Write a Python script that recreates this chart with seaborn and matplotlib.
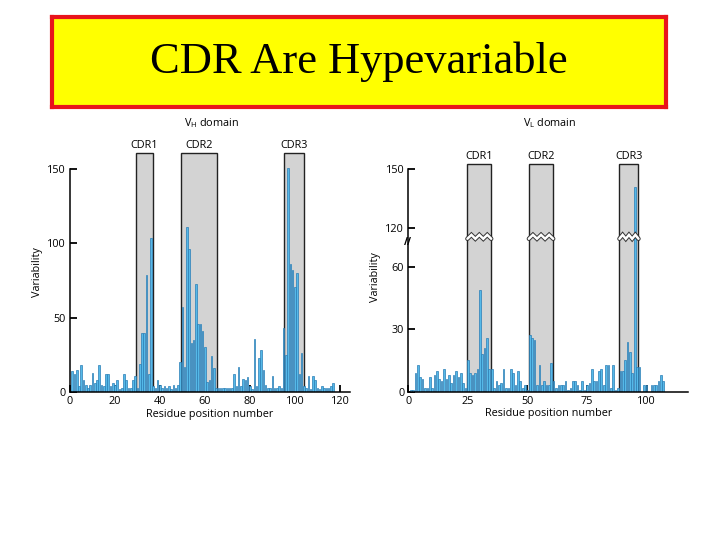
import numpy as np
import pandas as pd
import seaborn as sns
import matplotlib
matplotlib.use('Agg')
import matplotlib.pyplot as plt
from matplotlib.patches import Rectangle

# heavy chain variability (Wu-Kabat plot), residues 1..117
vh_pos = list(range(1, 118))
vh_var = [14, 12, 15, 4, 18, 8, 5, 3, 5, 13, 6, 8, 18, 5, 4, 12, 12, 4, 6, 5,
          8, 2, 3, 12, 8, 3, 3, 8, 11, 3, 19, 40, 40, 79, 12, 104, 4, 3, 8, 5,
          3, 4, 3, 4, 2, 5, 3, 5, 20, 57, 17, 111, 96, 33, 35, 73, 46, 46, 41, 30,
          7, 8, 24, 16, 3, 3, 3, 3, 3, 3, 3, 3, 12, 4, 17, 4, 9, 8, 10, 4,
          2, 36, 4, 23, 28, 15, 5, 3, 3, 11, 3, 3, 4, 3, 43, 25, 151, 86, 82, 71,
          80, 12, 26, 4, 3, 11, 2, 11, 8, 3, 2, 4, 3, 3, 3, 4, 6]

# light chain variability, residues 1..107
vl_pos = list(range(1, 108))
vl_var = [1, 1, 9, 13, 7, 6, 2, 2, 7, 2, 8, 10, 6, 5, 11, 6, 8, 4, 8, 10,
          7, 9, 4, 2, 15, 9, 8, 9, 11, 49, 18, 21, 26, 11, 11, 2, 5, 3, 4, 11,
          2, 2, 11, 9, 3, 10, 5, 2, 3, 1, 27, 26, 25, 3, 13, 3, 5, 3, 3, 14,
          5, 2, 3, 3, 3, 5, 1, 2, 5, 5, 3, 1, 5, 1, 3, 4, 11, 5, 5, 10,
          11, 3, 13, 13, 2, 13, 1, 2, 10, 10, 15, 24, 19, 9, 141, 12, 12, 0, 3, 3,
          0, 3, 3, 3, 5, 8, 5]

cdr_names = ['CDR1', 'CDR2', 'CDR3']
vh_cdr = [(29.3, 37.0), (49.2, 65.5), (95.1, 104.1)]
vl_cdr = [(24.8, 34.8), (50.6, 60.8), (88.6, 96.6)]

vh = pd.DataFrame({'pos': vh_pos, 'var': vh_var})
vl = pd.DataFrame({'pos': vl_pos, 'var': vl_var})

sns.set_style('ticks')
plt.rcParams['font.family'] = ['Open Sans', 'DejaVu Sans']
plt.rcParams['mathtext.fontset'] = 'custom'
plt.rcParams['mathtext.rm'] = 'Open Sans'
plt.rcParams['mathtext.it'] = 'Open Sans'
for k in ['text.color', 'axes.labelcolor', 'xtick.color', 'ytick.color', 'axes.edgecolor']:
    plt.rcParams[k] = 'black'

FS = 7.8
bar_c = '#55b9e8'
edge_c = '#2a7db5'
box_c = '#d3d3d3'


# broken y axis for the light chain panel
def fwd(y):
    y = np.asarray(y, dtype=float)
    return np.where(y <= 60, y,
                    np.where(y <= 120, 60 + (y - 60) * 0.3125,
                             78.75 + (y - 120) * 0.94))


def inv(u):
    u = np.asarray(u, dtype=float)
    return np.where(u <= 60, u,
                    np.where(u <= 78.75, 60 + (u - 60) / 0.3125,
                             120 + (u - 78.75) / 0.94))


fig = plt.figure(figsize=(7.2, 5.4), dpi=100)

# title banner
axt = fig.add_axes([52 / 720, (540 - 107) / 540, 614 / 720, 90 / 540])
axt.set_facecolor('#ffff00')
axt.set_xticks([])
axt.set_yticks([])
for s in axt.spines.values():
    s.set_color('#e8141b')
    s.set_linewidth(3)
axt.text(0.5, 0.5, 'CDR Are Hypevariable', family='Liberation Serif',
         fontsize=32, color='black', ha='center', va='center', transform=axt.transAxes)

ax1 = fig.add_axes([70 / 720, (540 - 392) / 540, 280 / 720, 240.6 / 540])
ax2 = fig.add_axes([408.3 / 720, (540 - 391.7) / 540, 280 / 720, 228.6 / 540])

sns.barplot(data=vh, x='pos', y='var', native_scale=True, color=bar_c,
            width=0.7, edgecolor=edge_c, linewidth=0.5, saturation=1, ax=ax1, zorder=3)
sns.barplot(data=vl, x='pos', y='var', native_scale=True, color=bar_c,
            width=0.7, edgecolor=edge_c, linewidth=0.5, saturation=1, ax=ax2, zorder=3)

ax2.set_yscale('function', functions=(fwd, inv))

ax1.set_xlim(0, 124.5)
ax1.set_ylim(0, 162)
ax1.set_xticks([0, 20, 40, 60, 80, 100, 120])
ax1.set_yticks([0, 50, 100, 150])
ax1.spines['left'].set_bounds(0, 150)

ax2.set_xlim(0, 117.5)
ax2.set_ylim(0, 153)
ax2.set_xticks([0, 25, 50, 75, 100])
ax2.set_yticks([0, 30, 60, 120, 150])
ax2.yaxis.set_minor_locator(matplotlib.ticker.NullLocator())
ax2.yaxis.set_major_formatter(matplotlib.ticker.FormatStrFormatter('%d'))
ax2.spines['left'].set_bounds(0, 150)

for ax, cdrs, top, lab, lab_x in [(ax1, vh_cdr, 161, r'V$_{\mathrm{H}}$ domain', 211.5),
                                   (ax2, vl_cdr, 152.5, r'V$_{\mathrm{L}}$ domain', 550)]:
    for s in ['top', 'right']:
        ax.spines[s].set_visible(False)
    for s in ['left', 'bottom']:
        ax.spines[s].set_linewidth(1.1)
        ax.spines[s].set_zorder(5)
    ax.tick_params(direction='in', length=5, width=1.3, labelsize=FS, pad=3)
    ax.set_xlabel('Residue position number', fontsize=FS, labelpad=1)
    ax.set_ylabel('Variability', fontsize=FS, labelpad=3)
    ax.set_facecolor('none')
    for name, (x0, x1) in zip(cdr_names, cdrs):
        ax.add_patch(Rectangle((x0, 0), x1 - x0, top, facecolor=box_c,
                               edgecolor='#222222', linewidth=1.0, zorder=1))
        ax.annotate(name, xy=((x0 + x1) / 2, top), xytext=(0, 1.5),
                    textcoords='offset points', ha='center', va='bottom',
                    fontsize=FS, annotation_clip=False)
    fig.text(lab_x / 720, 1 - 123 / 540, lab, ha='center', va='center', fontsize=FS)

# zigzag break marks on the light chain panel
for x0, x1 in vl_cdr:
    xs = np.linspace(x0, x1, 7)
    ys = np.array([103, 109, 103, 109, 103, 109, 103])
    ax2.plot(xs, ys, color='#333333', lw=3.2, zorder=4, solid_joinstyle='miter')
    ax2.plot(xs, ys, color='white', lw=1.8, zorder=4.5, solid_joinstyle='miter')
ax2.text(0, 97, '//', fontsize=7, fontweight='bold', ha='center', va='center',
         zorder=6, clip_on=False)

fig.savefig('out.png', dpi=100)
